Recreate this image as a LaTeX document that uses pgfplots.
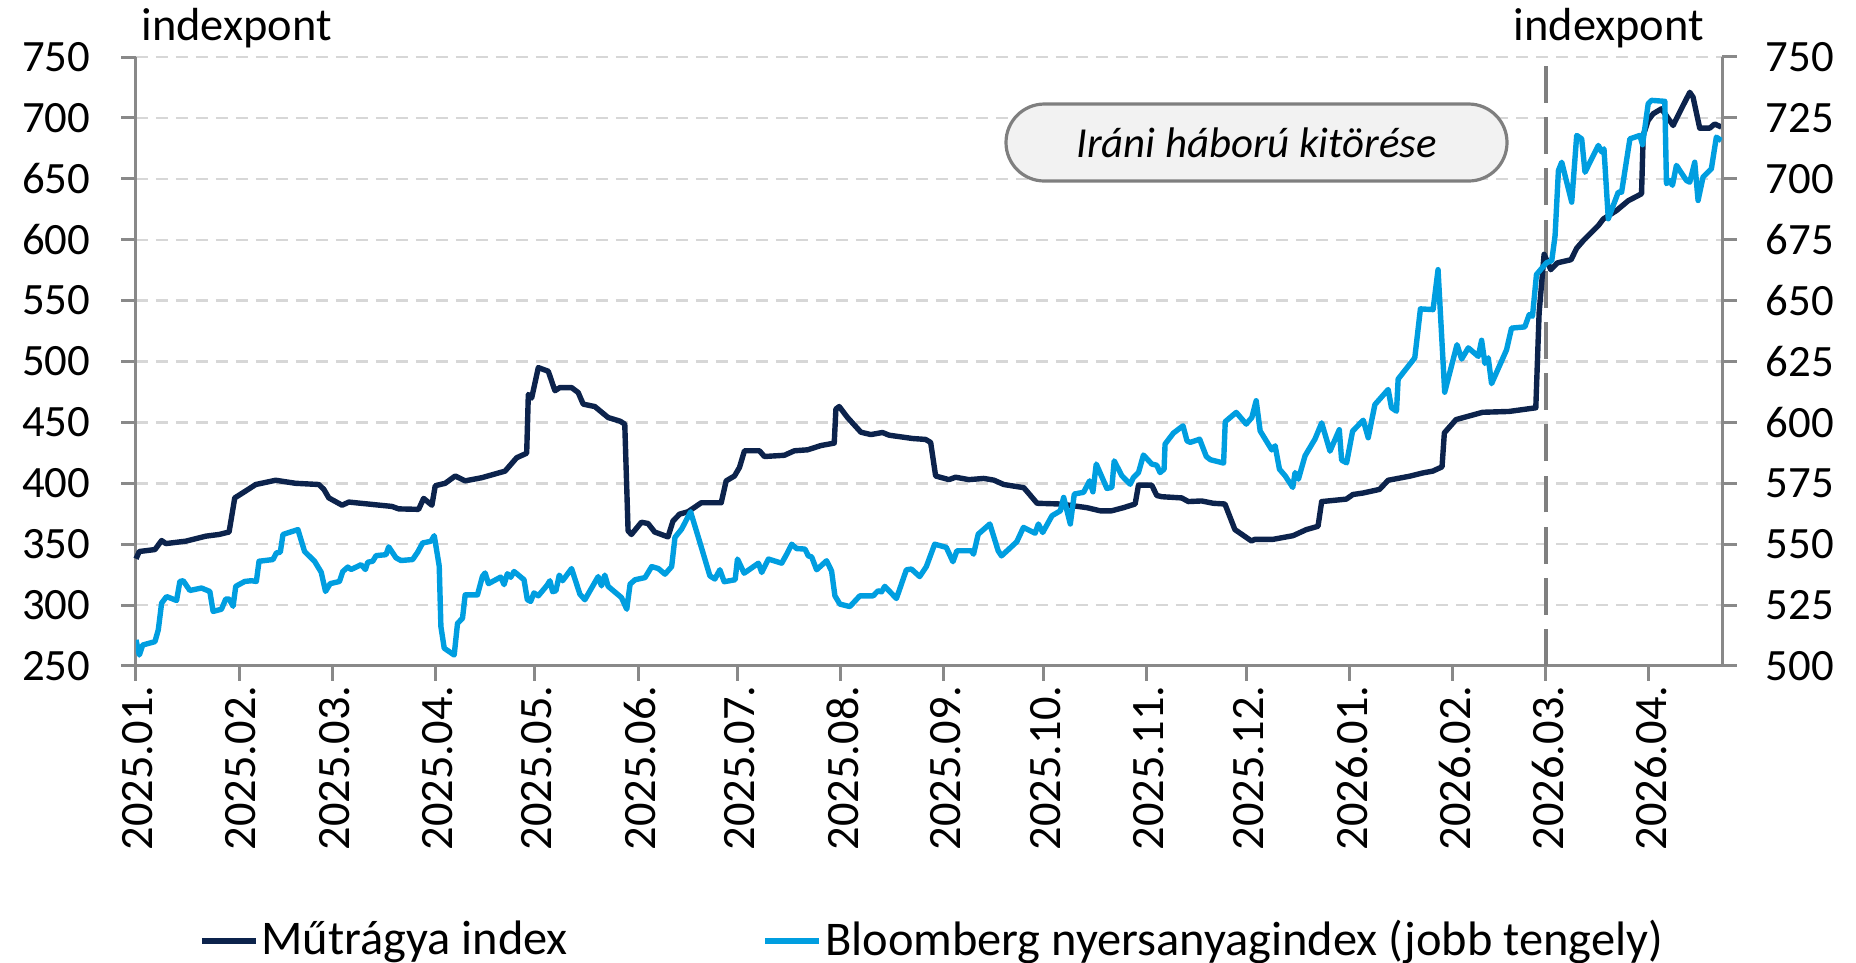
\documentclass[border=0pt]{standalone}
\usepackage{fontspec}
\setmainfont{Carlito}
\usepackage{pgfplots}
\pgfplotsset{compat=1.18}
\definecolor{navy}{RGB}{12,35,76}
\definecolor{sky}{RGB}{0,158,224}
\definecolor{axgray}{RGB}{137,137,137}
\definecolor{gridgray}{RGB}{215,215,215}
\definecolor{boxfill}{RGB}{242,242,242}
\definecolor{boxdraw}{RGB}{127,127,127}
\newcommand{\fs}{\fontsize{11.6}{14}\selectfont}
\newcommand{\fy}{\fontsize{11.2}{14}\selectfont}
\begin{document}
\begin{tikzpicture}[font=\fs]
\pgfplotsset{
  base/.style={
    at={(0,0)}, anchor=south west,
    scale only axis, width=396.5pt, height=152.25pt,
    xmin=0, xmax=477,
    tick align=outside,
    major tick length=3.7pt,
    axis line style={axgray, line width=0.75pt},
    every tick/.style={axgray, line width=0.75pt},
    tick label style={font=\fs, text=black},
    yticklabel style={font=\fy},
    /pgf/number format/assume math mode=true,
  }
}
\begin{axis}[base, clip=false,
  ymin=250, ymax=750, ytick={250,300,...,750},
  axis x line*=bottom, axis y line*=left,
  xtick={0,31,59,90,120,151,181,212,243,273,304,334,365,396,424,455},
  xticklabels={2025.01.,2025.02.,2025.03.,2025.04.,2025.05.,2025.06.,2025.07.,2025.08.,2025.09.,2025.10.,2025.11.,2025.12.,2026.01.,2026.02.,2026.03.,2026.04.},
  xticklabel style={rotate=90, anchor=east, inner sep=1pt, yshift=-0.5pt},
  yticklabel style={anchor=east, inner sep=0pt, xshift=-7.5pt},
  ymajorgrids,
  major grid style={gridgray, dash pattern=on 3pt off 2pt, line width=0.6pt},
  legend columns=2,
  legend style={draw=none, fill=none, inner sep=0pt, anchor=west,
    at={(axis description cs:0.039,-0.4516)}, font=\fontsize{12.1}{14}\selectfont,
    nodes={inner sep=0.6pt},
    /tikz/every even column/.append style={column sep=48pt}},
  legend image code/.code={\draw[#1, line width=1.6pt] (0pt,0pt) -- (13.5pt,0pt);},
]
\draw[boxdraw, line width=1pt, dash pattern=on 9.2pt off 3.6pt] (axis cs:424,250) -- (axis cs:424,750);
\addplot[navy, line width=1.35pt, line join=round] coordinates {
(0,338) (1,344) (5.7,345.6) (7.7,353) (9,350.5) (15,352.5) (21,356.6) (25,358) (28,360)
(29.7,388) (33,393.7) (36,399) (42,402.5) (48,400) (55,399) (56.5,395) (58,388) (62,382)
(64,384.6) (77,381) (79,379) (85,378.6) (86.5,387.6) (89,382) (90,398) (93,400) (96,406)
(99,402) (104,404.6) (111,410) (114.5,421) (117.5,424.7) (118,473) (119,470) (121,495)
(124,492) (126,476) (127.5,478.6) (131,478.6) (133,474.5) (134.5,465) (138,463) (142,454)
(145.6,451) (147,448.6) (148,361) (149,358) (152,368) (154,367) (156,360) (160,356)
(161.5,369) (163.5,374.7) (166,376.6) (170,384) (176,384) (177.5,402) (180,406) (181.5,413)
(183,426.7) (187.5,426.7) (189,422) (195,423) (198,426.7) (202,427.5) (206,431) (210,433)
(210.5,461) (211.5,463) (214,454) (218,442) (221,440) (224.5,441.7) (226.5,439.5)
(233.5,436.8) (237.5,436) (239,433.5) (240.5,406) (244.5,403) (246.5,405) (250.5,403)
(255,404) (258,402.6) (261,399) (267,396.4) (268.4,392) (271,383.6) (278,383) (286,380)
(290,377.4) (293.4,377.4) (297,380) (300.5,383) (301.5,398.5) (305.5,398.5) (307,390)
(308.5,389) (314.5,388) (316.5,385) (320.5,385.5) (324,383.6) (327.5,383) (330.5,362)
(335.5,352.6) (336.5,354) (342,354) (348,357) (352,362) (355.5,364.7) (356.6,385) (364,387)
(366,390.8) (369,392) (374,395) (376.6,402.5) (383,405.8) (387,408.5) (390,410)
(392.8,413.5) (393.5,441.4) (397,452.3) (405,458.3) (413,459) (417,460.5) (421,462)
(422,540) (423.5,588) (425.5,575.4) (427.5,581) (431.6,583.6) (433.3,593) (435.3,599.3)
(438.3,607.5) (439.8,611.6) (441.3,617) (445.3,624) (448.8,632) (452.8,637.7) (453.3,685.6)
(454.8,698) (456.3,703.4) (458.8,707.5) (462.3,693.8) (464.8,707.5) (467.3,721) (468.3,717)
(470.3,691.6) (473.3,691.6) (474.8,695) (476.8,692.5)
};
\addlegendentry{Műtrágya index}
\addlegendimage{sky}
\addlegendentry{Bloomberg nyersanyagindex (jobb tengely)}
\node[draw=boxdraw, fill=boxfill, line width=0.8pt, rounded corners=9.6pt,
  minimum width=125.25pt, minimum height=19.25pt, font=\fontsize{10.7}{13}\selectfont\itshape]
  at (axis cs:337,679.8) {Iráni háború kitörése};
\node[anchor=base west, inner sep=0pt] at ([xshift=1.2pt,yshift=4.1pt]rel axis cs:0,1) {indexpont};
\node[anchor=base east, inner sep=0pt] at ([xshift=-4.3pt,yshift=4.1pt]rel axis cs:1,1) {indexpont};
\end{axis}
\begin{axis}[base,
  ymin=500, ymax=750, ytick={500,525,...,750},
  axis y line*=right, axis x line=none, xtick=\empty,
  yticklabel style={anchor=west, inner sep=0pt, xshift=7pt},
]
\addplot[sky, line width=1.35pt, line join=round] coordinates {
(0,510.7) (1,504.5) (2,508.6) (5.7,510) (6.7,514.8) (7.7,525.8) (9.2,528.5) (12.2,526.9)
(13.2,534.7) (14.2,535) (16.2,531) (19.7,532) (22.2,530.6) (23.2,522.4) (25.7,523.3)
(27,527.5) (28,527.5) (29.2,524.5) (30,532.7) (32.7,534.7) (34.7,535) (36.2,534.7)
(37,543) (41.2,543.7) (42.2,546.4) (43.4,546.7) (44.2,554) (48.7,556) (50.7,547)
(53.7,543) (55.7,538.5) (57,530.6) (58.4,533.8) (61.2,534.7) (62.2,538.8) (63.7,540.6)
(64.7,539.6) (67.7,541.6) (69,539.6) (69.7,542.6) (71.2,543) (72.2,545.3) (75.2,545.7)
(76,548.9) (78.2,544.4) (79.7,543.3) (83.2,543.7) (84.7,546.7) (86.2,550.5) (88.7,551.2)
(89.7,553.5) (91.2,541) (91.7,516.2) (92.7,507.3) (95.7,504.5) (96.7,517.5) (98.2,519.6)
(99,529.2) (102.7,529.2) (104.2,536.8) (105,538.2) (106,533.8) (109.7,536.5) (110.7,533.4)
(111.7,537.9) (112.7,536.4) (113.7,538.8) (116.7,535.4) (117.7,527.2) (118.7,526.5)
(119.7,530) (121,528.8) (123.5,532.9) (124.5,535) (125.3,530.5) (126.3,530.9) (127.3,537.3)
(128.3,535) (131,540) (133.5,529.5) (135,527.2) (139,536.7) (140,532.9) (141,537.3)
(142,532.7) (146,528.1) (147.6,523.3) (148.6,533.6) (150.1,535.4) (153.1,536.3)
(155.1,540.8) (157.1,540) (159.1,537.7) (161.1,540.8) (162.1,552.8) (164.1,556.2)
(166.8,563.3) (169.6,550.7) (172.6,537) (174.1,535.7) (175.6,539.5) (176.9,534.6)
(180.2,535.4) (180.9,543.9) (182.9,538.1) (187.2,542.2) (188.2,538.4) (190.2,543.9)
(194.2,542.2) (195.7,545.9) (197.2,550) (198.7,548.2) (201.2,548) (202.2,545.2)
(203.2,544.8) (204.7,539.5) (207.7,543.2) (209.2,539) (210.2,528.8) (211.7,525.4)
(214.7,524.4) (217.7,528.8) (221.7,528.8) (223.2,530.9) (224.2,530.4) (225.2,532.7)
(228.7,527.7) (231.7,539.5) (233.2,539.8) (235.7,536.7) (237.7,540.8) (240.2,550)
(243.7,548.7) (245.7,542.8) (246.9,547.3) (251.2,547.3) (251.9,545.9) (253.3,554.1)
(256.8,558.3) (259.3,547.3) (260.3,545.2) (262.3,547.7) (264.9,551) (266.9,556.9)
(270.4,554.5) (271.4,558.3) (272.7,554.8) (275.5,561.7) (278,563.7) (279,569.2)
(281,558.3) (282.2,570.6) (285,571.3) (286.8,576) (287.8,571.5) (288.8,582.9) (292,572.9)
(293.5,573.3) (294.2,584.2) (296.5,578.1) (299,574.6) (300,577.4) (301.5,579.4)
(303,586.6) (305.5,582.9) (307,582.4) (308,579.4) (309.2,580.8) (309.5,591.1) (312,595.6)
(314.9,598.6) (316.1,592.4) (317.1,591.8) (319.9,593.1) (321.9,586) (323.1,584.7)
(327.1,583.3) (327.6,600.3) (330.9,604.1) (333.9,599.3) (335.6,602) (336.9,608.9)
(338.1,596.5) (341.6,588.7) (342.6,590.4) (343.9,580.8) (345.6,578.1) (347.9,573.3)
(348.6,579.4) (349.6,576.7) (351.6,586.3) (354.6,593.2) (356.6,599.8) (359.1,588.2)
(361.9,597) (362.6,584.5) (364.1,583.4) (365.9,596.4) (369.1,600.9) (370.6,593.7)
(372.6,607.3) (376.6,613.5) (377.6,606) (379.1,604.6) (379.6,617.8) (384.6,626.5)
(386.3,646.6) (390.1,646.3) (391.6,662.7) (393.6,612.4) (397.3,631.9) (398.7,626)
(400.7,630.6) (403.7,627.1) (404.7,633.7) (405.7,624.2) (406.7,626.5) (407.7,615.9)
(412.2,629.8) (413.7,638.7) (417.7,639.2) (419,644.2) (420,643.6) (421.2,660.7)
(424.2,665.5) (425.8,666.4) (426.8,676.7) (427.8,703.4) (428.8,706.8) (431.8,690.4)
(433.3,717.8) (434.8,716.4) (435.8,702.7) (439.8,713.7) (440.8,711) (441.5,712.3)
(442.8,683.6) (445.8,694.5) (446.8,694.5) (449.3,716.4) (452.3,717.8) (453.1,714)
(454.8,730.8) (455.8,732.2) (459.8,731.8) (460.3,698) (461.3,699.3) (462.1,697.3)
(463.3,705.5) (466.3,699.3) (467.3,698.6) (468.8,706.8) (469.8,691.1) (471.3,700.7)
(473.8,704.1) (475.3,717.1) (476.8,715.7)
};
\end{axis}
\pgfresetboundingbox
\useasboundingbox (-34pt,-74.25pt) rectangle (430pt,166.5pt);
\end{tikzpicture}
\end{document}
